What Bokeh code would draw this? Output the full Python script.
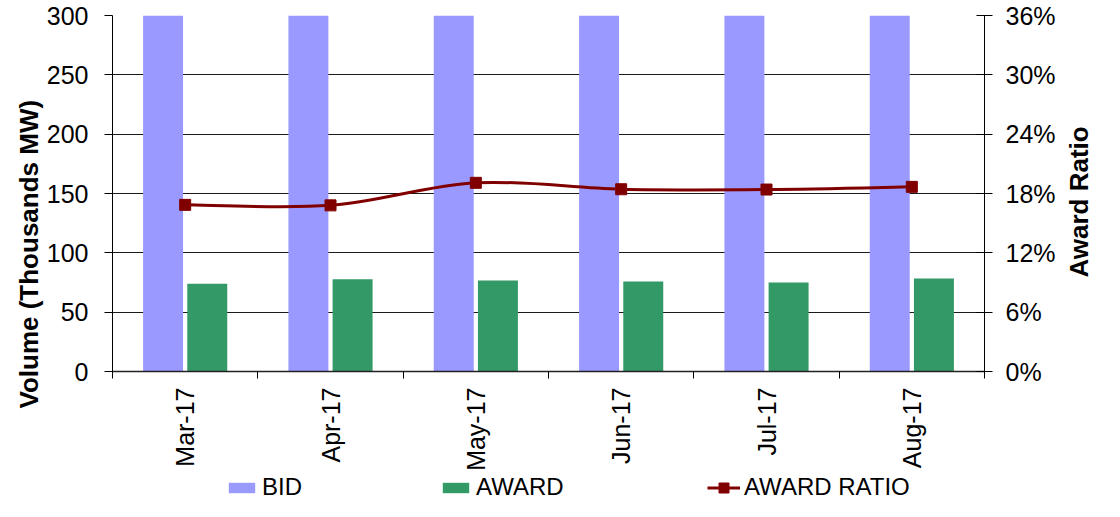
import numpy as np
from bokeh.plotting import figure
from bokeh.layouts import column
from bokeh.models import (Range1d, LinearAxis, FixedTicker, PrintfTickFormatter,
                          Legend, LegendItem, ColumnDataSource, Title)
from bokeh.transform import dodge
from bokeh.embed import file_html
from bokeh.resources import INLINE

# ---------------- data ----------------
months = ["Mar-17", "Apr-17", "May-17", "Jun-17", "Jul-17", "Aug-17"]
bid = [438, 463, 402, 411, 408, 419]            # thousands MW (bars run off the top of the chart)
award = [73.9, 77.8, 76.7, 75.8, 75.0, 78.3]     # thousands MW
award_ratio = [16.85, 16.8, 19.08, 18.43, 18.4, 18.67]  # percent
left_ticks = [0, 50, 100, 150, 200, 250, 300]
right_ticks = [0, 6, 12, 18, 24, 30, 36]

FONT = "Liberation Sans"
BID_COLOR = "#9999FF"
AWARD_COLOR = "#339966"
RATIO_COLOR = "#800000"
RATIO_TITLE_AT = 9.5   # where the right-hand title text starts (in ratio-axis units)
W = 1112

n = len(months)
xc = [i + 0.5 for i in range(n)]
src = ColumnDataSource(dict(x=xc, bid=bid, award=award, ratio=award_ratio))

p = figure(width=W, height=473, x_range=Range1d(0, n), y_range=Range1d(0, 300),
           output_backend="svg", toolbar_location=None,
           min_border_left=112, min_border_top=15, min_border_right=100, min_border_bottom=102)
p.extra_y_ranges = {"ratio": Range1d(0, 36)}
p.outline_line_color = None
p.background_fill_color = "white"
p.border_fill_color = "white"

# bars
p.vbar(x=dodge("x", -0.152, range=p.x_range), top="bid", width=0.275, source=src,
       fill_color=BID_COLOR, line_color=None)
p.vbar(x=dodge("x", 0.152, range=p.x_range), top="award", width=0.275, source=src,
       fill_color=AWARD_COLOR, line_color=None)

# smooth ratio line (cubic bezier segments through data points)
px = np.array(xc, dtype=float)
py = np.array(award_ratio, dtype=float)
ppx = np.concatenate([[px[0]], px, [px[-1]]])
ppy = np.concatenate([[py[0]], py, [py[-1]]])
seg = np.arange(n - 1)
bx0, by0 = ppx[seg + 1], ppy[seg + 1]
bx1, by1 = ppx[seg + 2], ppy[seg + 2]
cx0 = bx0 + (ppx[seg + 2] - ppx[seg]) / 6
cy0 = by0 + (ppy[seg + 2] - ppy[seg]) / 6
cx1 = bx1 - (ppx[seg + 3] - ppx[seg + 1]) / 6
cy1 = by1 - (ppy[seg + 3] - ppy[seg + 1]) / 6
p.bezier(x0=bx0, y0=by0, x1=bx1, y1=by1, cx0=cx0, cy0=cy0, cx1=cx1, cy1=cy1,
         line_color=RATIO_COLOR, line_width=3, y_range_name="ratio")
p.scatter("x", "ratio", marker="square", size=11, source=src,
          fill_color=RATIO_COLOR, line_color=RATIO_COLOR, y_range_name="ratio")

# x axis
xa = p.xaxis[0]
xa.ticker = FixedTicker(ticks=xc, minor_ticks=list(range(n + 1)))
xa.major_label_overrides = {x: m for x, m in zip(xc, months)}
xa.major_label_orientation = np.pi / 2
xa.major_tick_out = 0
xa.major_tick_in = 0
xa.minor_tick_out = 7
xa.minor_tick_in = 0
xa.minor_tick_line_color = "black"
xa.axis_line_color = "#222222"
xa.axis_line_width = 1.5
xa.major_label_standoff = 9
xa.major_label_text_font = FONT
xa.major_label_text_font_size = "25px"
xa.major_label_text_color = "black"

# left axis
ya = p.yaxis[0]
ya.ticker = FixedTicker(ticks=left_ticks)
ya.major_tick_out = 8
ya.major_tick_in = 0
ya.minor_tick_out = 0
ya.minor_tick_in = 0
ya.axis_line_color = "black"
ya.major_tick_line_color = "black"
ya.major_label_standoff = 16
ya.major_label_text_font = FONT
ya.major_label_text_font_size = "25px"
ya.major_label_text_color = "black"

p.add_layout(Title(text="Volume (Thousands MW)", align="left", offset=-37,
                   text_font=FONT, text_font_size="26px", text_font_style="bold",
                   text_color="black", standoff=0), "left")

# right axis
ra = LinearAxis(y_range_name="ratio", ticker=FixedTicker(ticks=right_ticks),
                formatter=PrintfTickFormatter(format="%d%%"))
ra.major_tick_in = 8
ra.major_tick_out = 8
ra.minor_tick_in = 0
ra.minor_tick_out = 0
ra.axis_line_color = "black"
ra.major_tick_line_color = "black"
ra.major_label_standoff = 13
ra.major_label_text_font = FONT
ra.major_label_text_font_size = "25px"
ra.major_label_text_color = "black"
p.add_layout(ra, "right")

# right-hand title, drawn as a single rotated label reading bottom-to-top
rt = LinearAxis(y_range_name="ratio", ticker=FixedTicker(ticks=[RATIO_TITLE_AT]),
                major_label_overrides={RATIO_TITLE_AT: "Award Ratio"})
rt.major_label_orientation = np.pi / 2
rt.axis_line_color = None
rt.major_tick_line_color = None
rt.minor_tick_line_color = None
rt.major_tick_in = 0
rt.major_tick_out = 0
rt.minor_tick_in = 0
rt.minor_tick_out = 0
rt.major_label_standoff = 21
rt.major_label_text_font = FONT
rt.major_label_text_font_size = "26px"
rt.major_label_text_font_style = "bold"
rt.major_label_text_color = "black"
p.add_layout(rt, "right")

# grid
p.xgrid.visible = False
p.ygrid.ticker = FixedTicker(ticks=left_ticks)
p.ygrid.grid_line_color = "#1a1a1a"
p.ygrid.grid_line_width = 1

# ---------------- legend strip ----------------
lg = figure(width=W, height=28, x_range=Range1d(0, 1), y_range=Range1d(0, 1),
            output_backend="svg", toolbar_location=None, x_axis_location=None,
            y_axis_location=None, min_border=0)
lg.outline_line_color = None
lg.xgrid.visible = False
lg.ygrid.visible = False
k_bid = lg.vbar(x="x", top="bid", width=0.1, source=src, fill_color=BID_COLOR,
                line_color=None, visible=False)
k_award = lg.vbar(x="x", top="award", width=0.1, source=src, fill_color=AWARD_COLOR,
                  line_color=None, visible=False)
k_line = lg.line(x="x", y="ratio", source=src, line_color=RATIO_COLOR, line_width=3,
                 visible=False)
k_mark = lg.scatter(x="x", y="ratio", source=src, marker="square", size=11,
                    fill_color=RATIO_COLOR, line_color=RATIO_COLOR, visible=False)
common = dict(orientation="horizontal", glyph_width=33, label_standoff=4,
              label_text_font=FONT, label_text_font_size="24px", label_text_color="black",
              padding=0, margin=0, border_line_color=None, background_fill_alpha=0)
legend1 = Legend(items=[LegendItem(label="BID", renderers=[k_bid]),
                        LegendItem(label="AWARD", renderers=[k_award])],
                 location=(113, 0), spacing=137, glyph_height=13, **common)
legend2 = Legend(items=[LegendItem(label="AWARD RATIO", renderers=[k_line, k_mark])],
                 location=(595, 0), glyph_height=25, **common)
lg.add_layout(legend1)
lg.add_layout(legend2)

open("out.html", "w").write(file_html(column(p, lg, spacing=0), INLINE))
